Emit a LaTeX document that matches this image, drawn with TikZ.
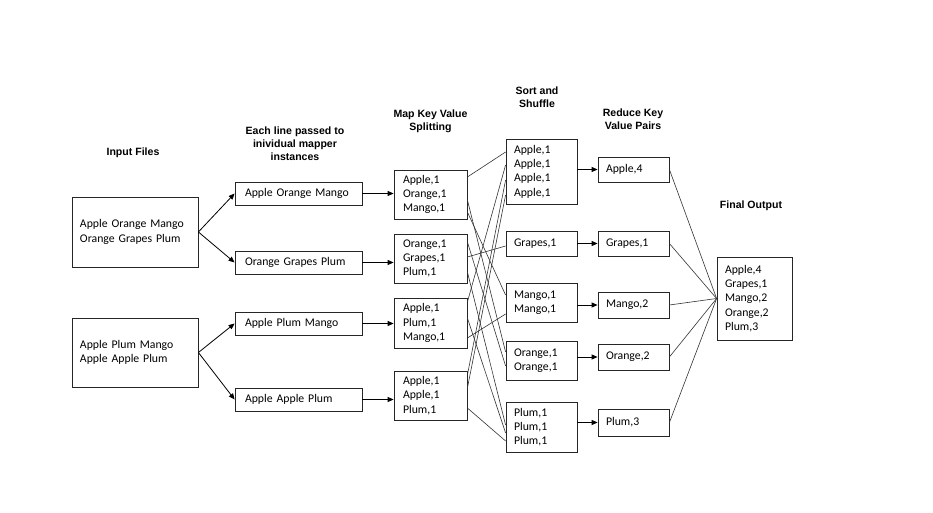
\documentclass[tikz,border=0pt]{standalone}
\usepackage{fontspec}
\setmainfont{Carlito}
\newfontfamily\hdfont{Liberation Sans}
\usetikzlibrary{arrows.meta}
\begin{document}
\begin{tikzpicture}[x=1bp,y=-1bp,
  bx/.style={draw=black!85, line width=0.8bp, inner ysep=0pt, inner xsep=8bp, align=left,
             font=\fontsize{11.8}{14.3}\selectfont, anchor=center},
  inbox/.style={bx, text width=110bp},
  linebox/.style={bx, inner xsep=10bp, text width=107bp, minimum height=23bp},
  mapbox/.style={bx, inner xsep=9bp, text width=55bp},
  shbox/.style={bx, text width=55bp},
  redbox/.style={bx, text width=55bp},
  finbox/.style={bx, text width=59bp, minimum height=83bp},
  hd/.style={align=center, font=\hdfont\bfseries\fontsize{10.6}{13}\selectfont},
  arr/.style={-{Triangle[length=6bp,width=5bp]}, line width=0.8bp},
  ln/.style={line width=0.6bp, draw=black!80},
]
\useasboundingbox (0,0) rectangle (933,513);
\fill[white] (0,0) rectangle (933,513);

% headings
\node[hd] (h1) at (133,153) {Input Files};
\node[hd] (h2) at (295,144) {Each line passed to\\inividual mapper\\instances};
\node[hd] (h3) at (430.5,121.5) {Map Key Value\\Splitting};
\node[hd] (h4) at (537,97) {Sort and\\Shuffle};
\node[hd] (h5) at (633,119.5) {Reduce Key\\Value Pairs};
\node[hd] (h6) at (751,206) {Final Output};

% input files
\node[inbox, minimum height=70bp] (in1) at (135,232) {Apple Orange Mango\\Orange Grapes Plum};
\node[inbox, minimum height=69bp] (in2) at (135,352.5) {Apple Plum Mango\\Apple Apple Plum};

% lines
\node[linebox] (l1) at (298.5,193.5) {Apple Orange Mango};
\node[linebox] (l2) at (298.5,262.5) {Orange Grapes Plum};
\node[linebox] (l3) at (298.5,323.5) {Apple Plum Mango};
\node[linebox] (l4) at (298.5,399.5) {Apple Apple Plum};

% map
\node[mapbox, minimum height=49bp] (m1) at (430.5,194.5) {Apple,1\\Orange,1\\Mango,1};
\node[mapbox, minimum height=49bp] (m2) at (430.5,258.5) {Orange,1\\Grapes,1\\Plum,1};
\node[mapbox, minimum height=50bp] (m3) at (430.5,323) {Apple,1\\Plum,1\\Mango,1};
\node[mapbox, minimum height=49bp] (m4) at (430.5,395.5) {Apple,1\\Apple,1\\Plum,1};

% shuffle
\node[shbox, minimum height=65bp] (s1) at (541.5,171.5) {Apple,1\\Apple,1\\Apple,1\\Apple,1};
\node[shbox, minimum height=25bp] (s2) at (541.5,243.5) {Grapes,1};
\node[shbox, minimum height=39bp] (s3) at (541.5,302.5) {Mango,1\\Mango,1};
\node[shbox, minimum height=39bp] (s4) at (541.5,360.5) {Orange,1\\Orange,1};
\node[shbox, minimum height=50bp] (s5) at (541.5,427) {Plum,1\\Plum,1\\Plum,1};

% reduce
\node[redbox, minimum height=25bp] (r1) at (633.5,169.5) {Apple,4};
\node[redbox, minimum height=25bp] (r2) at (633.5,243.5) {Grapes,1};
\node[redbox, minimum height=26bp] (r3) at (633.5,305) {Mango,2};
\node[redbox, minimum height=26bp] (r4) at (633.5,357) {Orange,2};
\node[redbox, minimum height=27bp] (r5) at (633.5,422.5) {Plum,3};

% final
\node[finbox] (f) at (754.5,298.5) {Apple,4\\Grapes,1\\Mango,2\\Orange,2\\Plum,3};

% input -> lines
\draw[arr] (in1.east) -- (l1.west);
\draw[arr] (in1.east) -- (l2.west);
\draw[arr] (in2.east) -- (l3.west);
\draw[arr] (in2.east) -- (l4.west);

% lines -> map
\draw[arr] (l1.east) -- (l1.east -| m1.west);
\draw[arr] (l2.east) -- (l2.east -| m2.west);
\draw[arr] (l3.east) -- (l3.east -| m3.west);
\draw[arr] (l4.east) -- (l4.east -| m4.west);

% map -> shuffle
\draw[ln] (m1.east |- 0,177) -- (s1.west |- 0,152);
\draw[ln] (m1.east |- 0,200) -- (s4.west |- 0,352);
\draw[ln] (m1.east |- 0,212) -- (s3.west |- 0,295);
\draw[ln] (m2.east |- 0,242) -- (s4.west |- 0,366);
\draw[ln] (m2.east |- 0,257) -- (s2.west |- 0,246);
\draw[ln] (m2.east |- 0,272) -- (s5.west |- 0,425);
\draw[ln] (m3.east |- 0,302) -- (s1.west |- 0,165);
\draw[ln] (m3.east |- 0,318) -- (s5.west |- 0,433);
\draw[ln] (m3.east |- 0,338) -- (s3.west |- 0,314);
\draw[ln] (m4.east |- 0,375) -- (s1.west |- 0,180);
\draw[ln] (m4.east |- 0,388) -- (s1.west |- 0,195);
\draw[ln] (m4.east |- 0,408) -- (s5.west |- 0,441);

% shuffle -> reduce
\draw[arr] (s1.east |- r1.west) -- (r1.west);
\draw[arr] (s2.east |- r2.west) -- (r2.west);
\draw[arr] (s3.east |- r3.west) -- (r3.west);
\draw[arr] (s4.east |- r4.west) -- (r4.west);
\draw[arr] (s5.east |- r5.west) -- (r5.west);

% reduce -> final
\foreach \r in {r1,r2,r3,r4,r5}
  \draw[ln] (\r.east) -- (f.west);
\end{tikzpicture}
\end{document}
